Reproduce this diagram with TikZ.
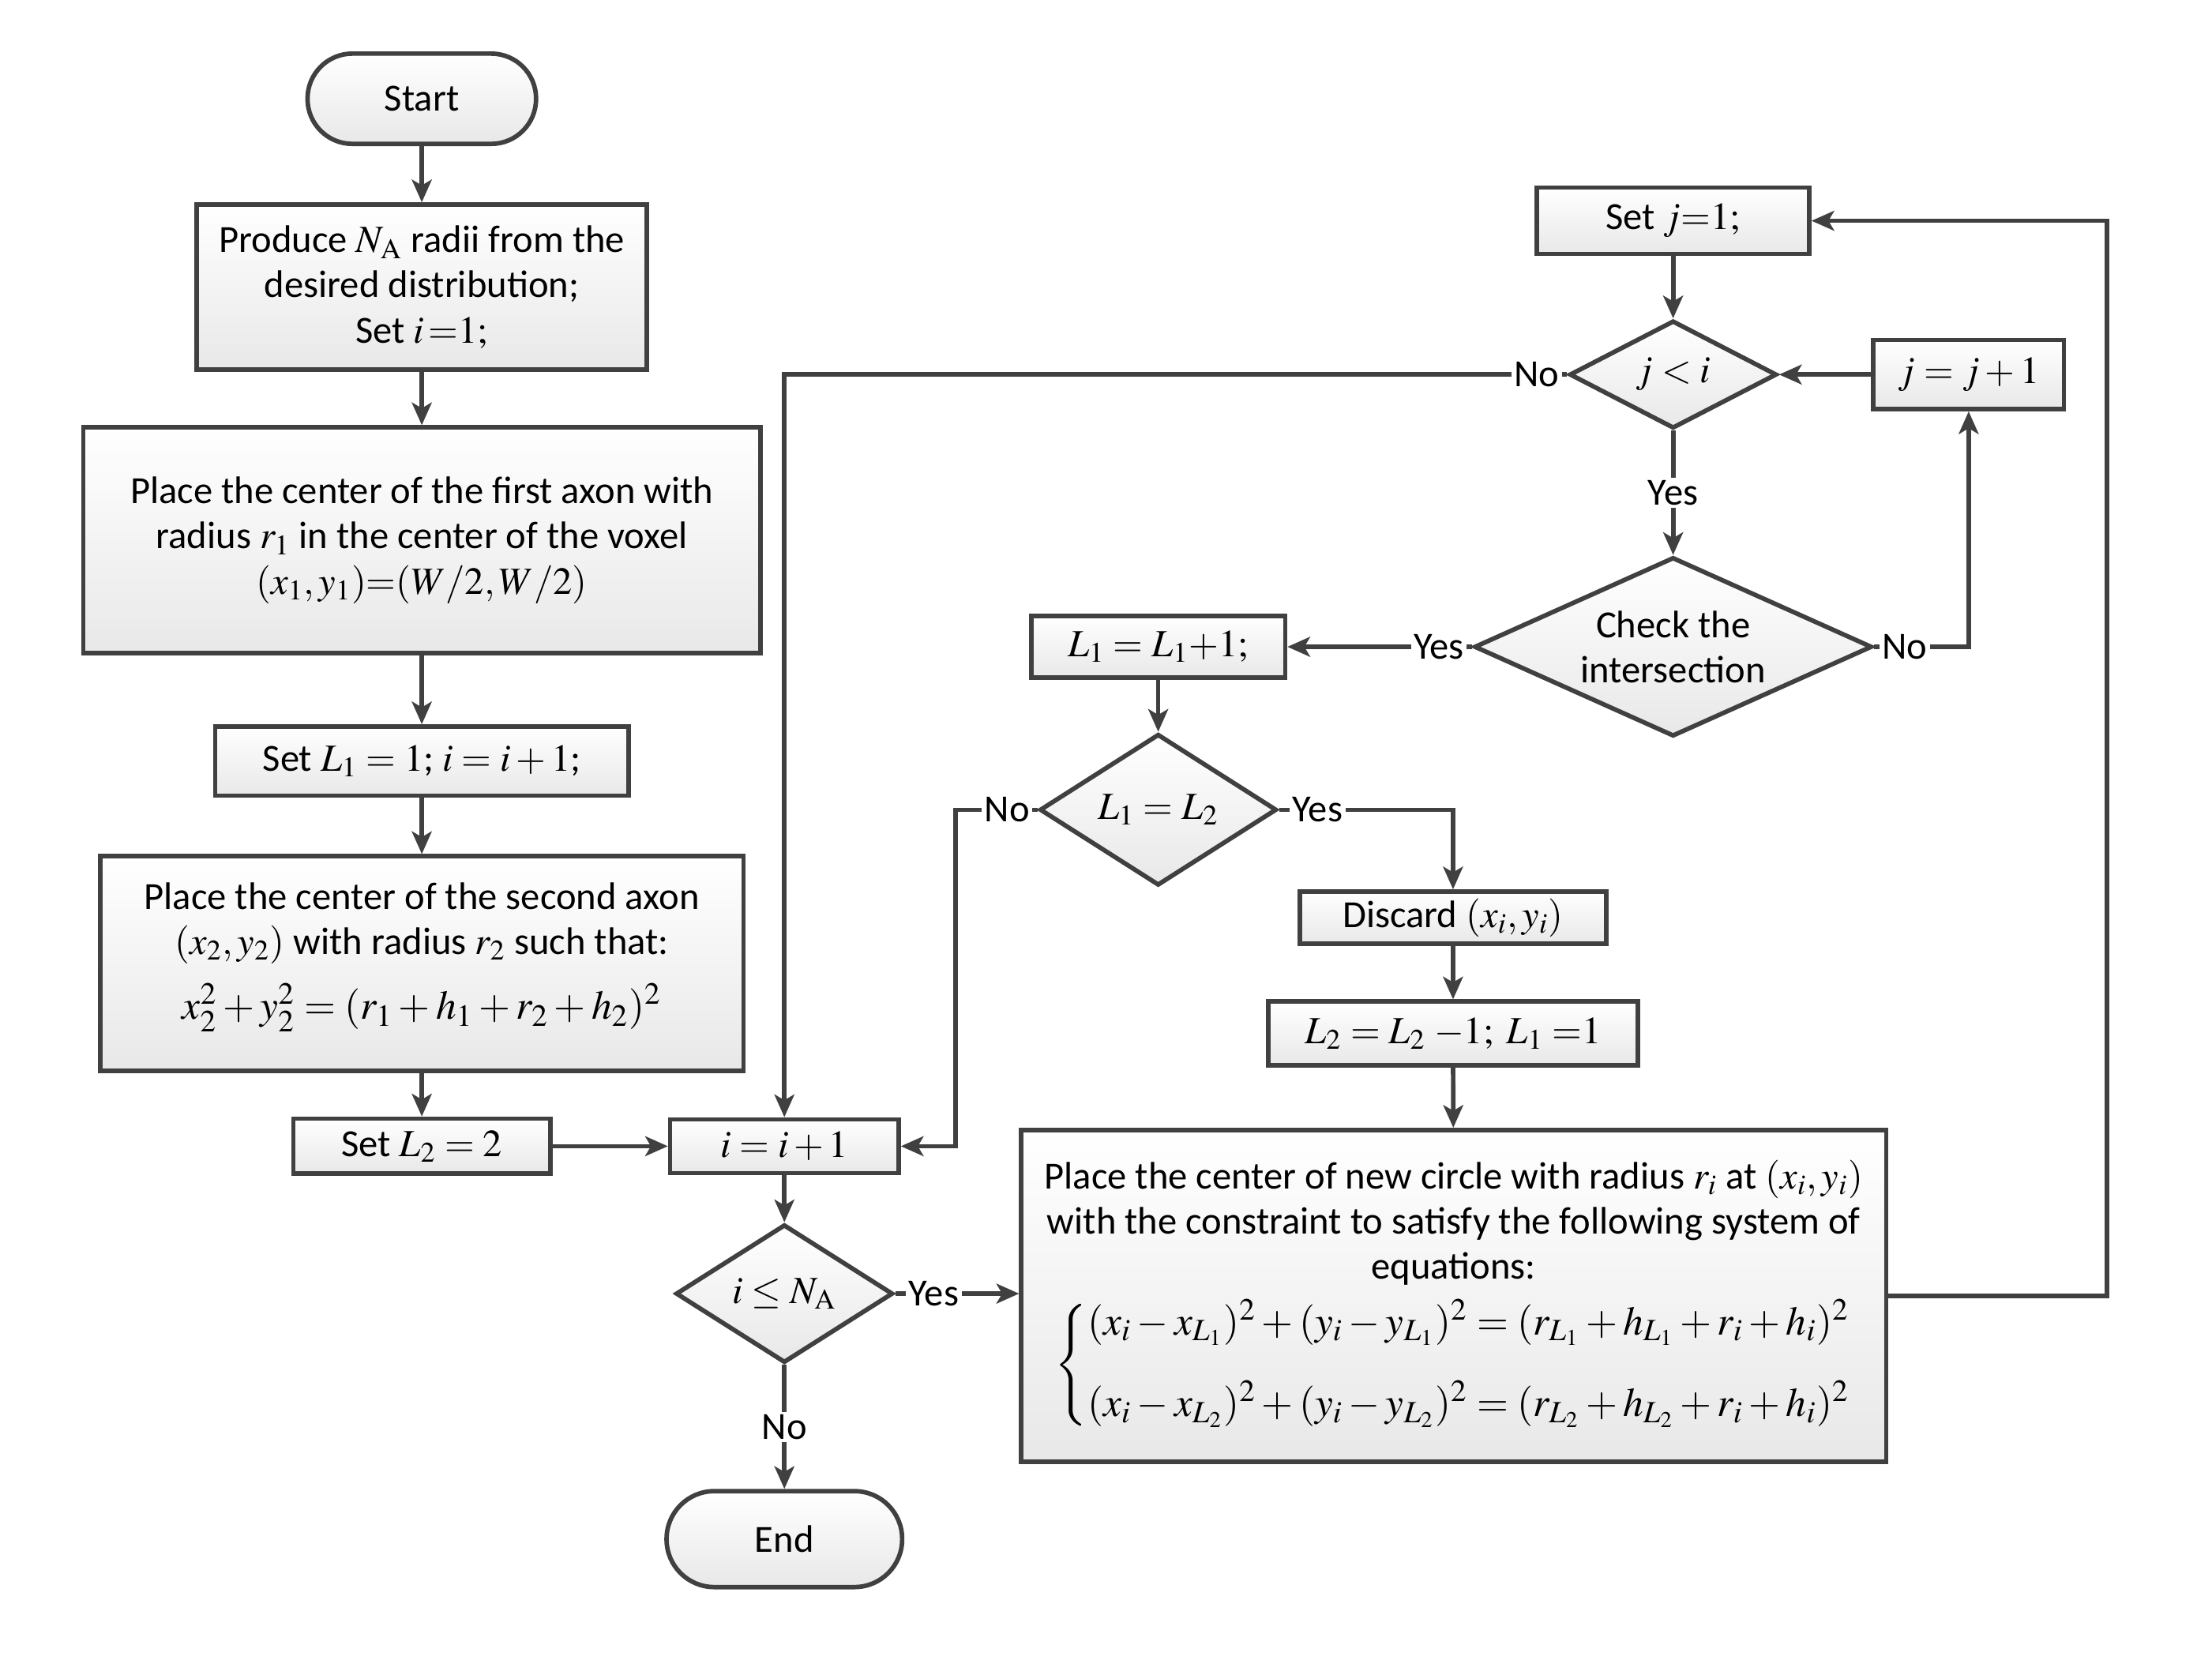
\documentclass[tikz,border=0pt]{standalone}
\usepackage{mathptmx}
\usepackage[no-math]{fontspec}
\setmainfont{Carlito}
\usetikzlibrary{shapes.geometric,arrows.meta,positioning}
\definecolor{linegray}{HTML}{404040}
\tikzset{
  box/.style={draw=linegray, line width=1.6pt, top color=white, bottom color=black!9, align=center, inner sep=2pt},
  term/.style={box, rounded corners=15.9pt},
  cond/.style={box, diamond, inner sep=0pt},
  flow/.style={draw=linegray, line width=1.6pt, -{Stealth[length=8pt,width=7pt,inset=2pt]}},
  lbl/.style={fill=white, inner sep=1pt},
}
\begin{document}
\begin{tikzpicture}[x=0.5pt, y=-0.5pt, font=\fontsize{13.6}{16}\selectfont]
\useasboundingbox (0,0) rectangle (1568,1187);

\node[term, minimum width=81pt, minimum height=32pt] (start) at (299,70) {Start};
\node[box, minimum width=159.5pt, minimum height=58.5pt] (radii) at (299,203.5)
  {Produce $N_{\mathrm{A}}$ radii from the\\desired distribution;\\Set $i\,{=}1;$};
\node[box, minimum width=240pt, minimum height=80pt] (first) at (299,383)
  {Place the center of the first axon with\\radius $r_1$ in the center of the voxel\\$(x_1,y_1){=}(W/2,W/2)$};
\node[box, minimum width=146.5pt, minimum height=24.5pt] (setone) at (299,539.5) {Set $L_1=1$; $i=i+1$;};
\node[box, minimum width=228pt, minimum height=76pt] (second) at (299,683)
  {Place the center of the second axon\\$(x_2,y_2)$ with radius $r_2$ such that:\\[7pt]
   {\Large $x_2^2+y_2^2=(r_1+h_1+r_2+h_2)^2$}\rule[-9pt]{0pt}{9pt}};
\node[box, minimum width=91pt, minimum height=19.5pt] (settwo) at (299,812.5) {Set $L_2=2$};
\node[box, minimum width=81pt, minimum height=19pt] (inc) at (556,812.5) {$i=i+1$};
\node[cond, minimum width=77pt, minimum height=49pt] (test) at (556,917) {$i\le N_{\mathrm{A}}$};
\node[term, minimum width=83.5pt, minimum height=34pt, rounded corners=16.9pt] (end) at (556,1091) {End};

\node[box, minimum width=96.5pt, minimum height=23.5pt] (setj) at (1186,156.5) {Set $j{=}1;$};
\node[cond, minimum width=73.5pt, minimum height=37.5pt] (jtest) at (1186,265.5) {$j<i$};
\node[box, minimum width=67.5pt, minimum height=24.5pt] (jinc) at (1395.5,265.5) {$j=j+1$};
\node[cond, aspect=2.2, minimum width=141pt, minimum height=63.5pt] (check) at (1186,458.5) {Check the\\intersection};
\node[box, minimum width=90pt, minimum height=22pt] (lone) at (821,458.5) {$L_1=L_1{+}1;$};
\node[cond, minimum width=84pt, minimum height=49pt] (ltest) at (821,574) {$L_1=L_2$};
\node[box, minimum width=108.5pt, minimum height=18.5pt] (discard) at (1030,650.5) {Discard $(x_i,y_i)$};
\node[box, minimum width=131pt, minimum height=22.5pt] (ltwo) at (1030,732.5) {$L_2=L_2\;{-}1;\;L_1\;{=}1$};
\node[box, minimum width=306.5pt, minimum height=117.5pt] (place) at (1030.5,918.5)
  {Place the center of new circle with radius $r_i$ at $(x_i,y_i)$\\
   with the constraint to satisfy the following system of\\equations:\\[4pt]
   {\Large $\left\{\begin{array}{@{}l@{}}
     (x_i-x_{L_1})^2+(y_i-y_{L_1})^2=(r_{L_1}+h_{L_1}+r_i+h_i)^2\\[11pt]
     (x_i-x_{L_2})^2+(y_i-y_{L_2})^2=(r_{L_2}+h_{L_2}+r_i+h_i)^2
   \end{array}\right.$}};

\draw[flow] (start) -- (radii);
\draw[flow] (radii) -- (first);
\draw[flow] (first) -- (setone);
\draw[flow] (setone) -- (second);
\draw[flow] (second) -- (settwo);
\draw[flow] (settwo) -- (inc);
\draw[flow] (inc) -- (test);
\draw[flow] (test.east) -- node[lbl, pos=0, anchor=west, xshift=3pt] {Yes} (test.east -| place.west);
\draw[flow] (test) -- node[lbl] {No} (end);

\draw[flow] (setj) -- (jtest);
\draw[flow] (jtest.west) -| node[lbl, pos=0, anchor=east, xshift=-1pt] {No} (inc.north);
\draw[flow] (jinc) -- (jtest);
\draw[flow] (jtest) -- node[lbl] {Yes} (check);
\draw[flow] (check.east) -| node[lbl, pos=0, anchor=west, xshift=1pt] {No} (jinc.south);
\draw[flow] (check.west) -- node[lbl, pos=0, anchor=east, xshift=-1pt] {Yes} (lone.east);
\draw[flow] (lone) -- (ltest);
\draw[flow] (ltest.west) -- node[lbl, pos=0, anchor=east, xshift=-1pt] {No} ++(-58,0) |- (inc.east);
\draw[flow] (ltest.east) -| node[lbl, pos=0, anchor=west, xshift=3pt] {Yes} (discard.north);
\draw[flow] (discard) -- (ltwo);
\draw[flow] (ltwo) -- (place);
\draw[flow] (place.east) -- ++(155,0) |- (setj.east);
\end{tikzpicture}
\end{document}
